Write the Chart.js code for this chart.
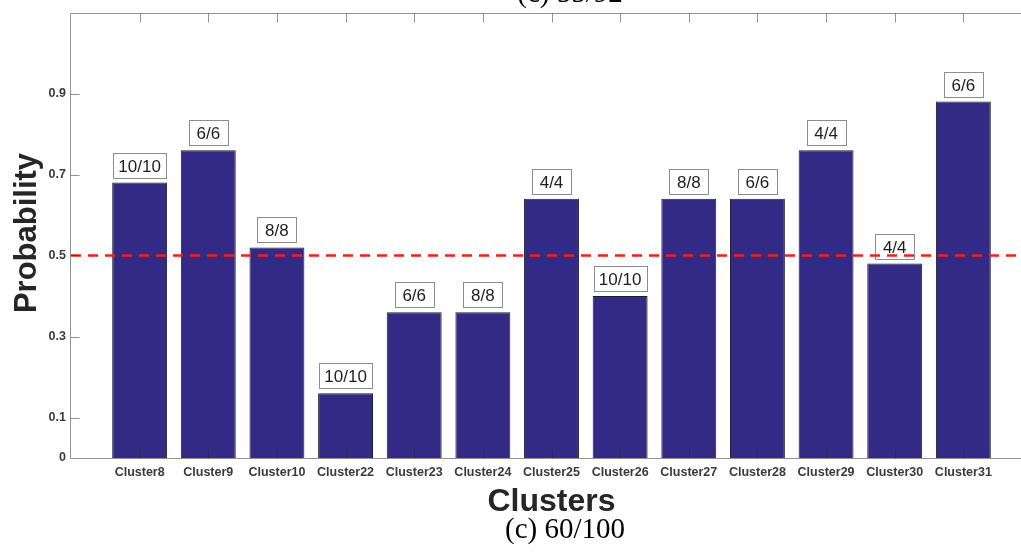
<!DOCTYPE html>
<html>
<head>
<meta charset="utf-8">
<script src="https://cdn.jsdelivr.net/npm/chart.js@4.4.1/dist/chart.umd.min.js"></script>
<style>
  html, body { margin: 0; padding: 0; background: #fff; overflow: hidden; width: 1021px; height: 552px; }
  #wrap { position: relative; width: 1045px; height: 552px; }
  canvas { display: block; }
</style>
</head>
<body>
<div id="wrap"><canvas id="chart" width="1045" height="552"></canvas></div>
<script>
// Cluster names, probability per cluster and the count label shown above each bar
const clusters = ['Cluster8', 'Cluster9', 'Cluster10', 'Cluster22', 'Cluster23', 'Cluster24', 'Cluster25',
                  'Cluster26', 'Cluster27', 'Cluster28', 'Cluster29', 'Cluster30', 'Cluster31'];
const probabilities = [0.68, 0.76, 0.52, 0.16, 0.36, 0.36, 0.64, 0.40, 0.64, 0.64, 0.76, 0.48, 0.88];
const ratioLabels = ['10/10', '6/6', '8/8', '10/10', '6/6', '8/8', '4/4', '10/10', '8/8', '6/6', '4/4', '4/4', '6/6'];
const yTicks = [0, 0.1, 0.3, 0.5, 0.7, 0.9];
const threshold = 0.5;
const subCaptionTop = '(c) 55/92';
const subCaption = '(c) 60/100';

const SANS = '"Liberation Sans", Arial, sans-serif';
const SERIF = '"Liberation Serif", "Times New Roman", serif';
const AXIS_INK = 'rgba(38,38,38,0.5)';
const TICK_LEN = 9;

// Box, inward tick marks, count labels, threshold line and titles
const decorations = {
  id: 'decorations',
  afterDatasetsDraw(chart) {
    const { ctx, chartArea: a, scales: { x, y } } = chart;
    ctx.save();

    // count labels in boxes above bars
    const meta = chart.getDatasetMeta(0);
    ctx.font = '17px ' + SANS;
    ctx.textAlign = 'center';
    ctx.textBaseline = 'middle';
    meta.data.forEach((bar, i) => {
      const txt = ratioLabels[i];
      const w = Math.max(ctx.measureText(txt).width + 10, 39);
      const h = 25;
      const cx = bar.x;
      const bottom = bar.y - 5;
      const left = Math.round(cx - w / 2) + 0.5;
      const top = Math.round(bottom - h) + 0.5;
      ctx.fillStyle = '#fff';
      ctx.fillRect(left, top, Math.round(w), h);
      ctx.strokeStyle = '#8c8c8c';
      ctx.lineWidth = 1;
      ctx.strokeRect(left, top, Math.round(w), h);
      ctx.fillStyle = '#1e1e1e';
      ctx.fillText(txt, cx, top + h / 2 + 1);
    });

    // threshold line
    const ty = y.getPixelForValue(threshold);
    ctx.beginPath();
    ctx.setLineDash([10, 7]);
    ctx.strokeStyle = '#ff1a1a';
    ctx.lineWidth = 2.5;
    ctx.moveTo(a.left, ty);
    ctx.lineTo(a.right, ty);
    ctx.stroke();
    ctx.setLineDash([]);

    // axes box
    ctx.strokeStyle = AXIS_INK;
    ctx.lineWidth = 1;
    const L = Math.round(a.left) - 0.5, R = Math.round(a.right) + 0.5;
    const T = Math.round(a.top) + 0.5, B = Math.round(a.bottom) + 0.5;
    ctx.beginPath();
    ctx.moveTo(L, T); ctx.lineTo(R, T); ctx.lineTo(R, B); ctx.lineTo(L, B); ctx.closePath();
    ctx.stroke();

    // inward ticks
    ctx.beginPath();
    clusters.forEach((_, i) => {
      const px = Math.round(x.getPixelForValue(i + 1)) + 0.5;
      ctx.moveTo(px, B); ctx.lineTo(px, B - TICK_LEN);
      ctx.moveTo(px, T); ctx.lineTo(px, T + TICK_LEN);
    });
    yTicks.forEach(v => {
      if (v === 0) return;
      const py = Math.round(y.getPixelForValue(v)) + 0.5;
      ctx.moveTo(L, py); ctx.lineTo(L + TICK_LEN, py);
      ctx.moveTo(R, py); ctx.lineTo(R - TICK_LEN, py);
    });
    ctx.stroke();
    ctx.restore();
  },
  afterDraw(chart) {
    const { ctx, chartArea: a } = chart;
    ctx.save();
    ctx.fillStyle = '#262626';
    ctx.textAlign = 'center';
    ctx.textBaseline = 'alphabetic';

    // y axis title
    ctx.save();
    ctx.translate(36, 233);
    ctx.rotate(-Math.PI / 2);
    ctx.font = 'bold 31px ' + SANS;
    ctx.fillText('Probability', 0, 0);
    ctx.restore();

    // x axis title
    ctx.font = 'bold 32px ' + SANS;
    ctx.fillText('Clusters', (a.left + a.right) / 2, 511);

    // sub captions
    ctx.fillStyle = '#000';
    ctx.font = '29px ' + SERIF;
    ctx.fillText(subCaption, 565, 538);
    ctx.fillText(subCaptionTop, 570, 2);
    ctx.restore();
  }
};

new Chart(document.getElementById('chart'), {
  type: 'bar',
  data: {
    datasets: [{
      data: probabilities.map((v, i) => ({ x: i + 1, y: v })),
      backgroundColor: '#332a85',
      borderColor: '#1c1c30',
      borderWidth: 1,
      barPercentage: 0.8,
      categoryPercentage: 1
    }]
  },
  options: {
    responsive: false,
    devicePixelRatio: 1,
    animation: false,
    layout: { padding: { left: 0, top: 10, right: 13, bottom: 0 } },
    plugins: { legend: { display: false }, tooltip: { enabled: false } },
    scales: {
      x: {
        type: 'linear',
        offset: false,
        min: 0,
        max: clusters.length + 1,
        grid: { display: false, drawTicks: false, offset: false },
        border: { display: false },
        afterBuildTicks: s => { s.ticks = clusters.map((_, i) => ({ value: i + 1 })); },
        afterFit: s => { s.height = 94; },
        ticks: {
          autoSkip: false,
          maxRotation: 0,
          minRotation: 0,
          padding: 7,
          color: '#3a3a3a',
          font: { family: SANS, weight: 'bold', size: 12.5 },
          callback: v => clusters[v - 1] || ''
        }
      },
      y: {
        min: 0,
        max: 1.1,
        grid: { display: false, drawTicks: false },
        border: { display: false },
        afterBuildTicks: s => { s.ticks = yTicks.map(v => ({ value: v })); },
        afterFit: s => { s.width = 71; },
        ticks: {
          padding: 5,
          color: '#3a3a3a',
          font: { family: SANS, weight: 'bold', size: 12.5 },
          callback: v => (v === 0 ? '0' : v.toFixed(1))
        }
      }
    }
  },
  plugins: [decorations]
});
</script>
</body>
</html>
